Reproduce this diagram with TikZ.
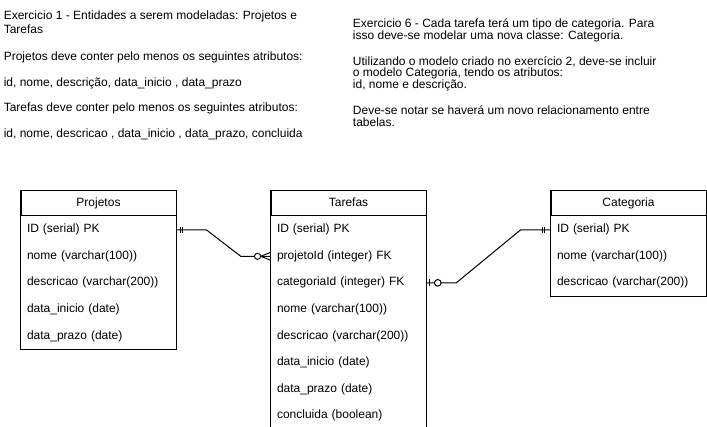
\documentclass[tikz,border=0pt]{standalone}
\usepackage{fontspec}
\setmainfont{Liberation Sans}
\usetikzlibrary{positioning,calc}

\begin{document}
\begin{tikzpicture}[x=0.75pt,y=-0.75pt,
	every node/.style={font=\fontsize{9pt}{10.8pt}\selectfont},
	txt/.style={anchor=base west,inner sep=0pt},
	head/.style={draw,line width=0.75pt,minimum width=116.25pt,minimum height=18.75pt,inner sep=0pt,text height=6.6pt,text depth=1.9pt},
	row/.style={minimum height=19.5pt,inner ysep=0pt,inner xsep=4.5pt,text width=107.25pt,align=left},
	rel/.style={line width=0.75pt}]
	\useasboundingbox (0,0) rectangle (707,427);

	%text
	\node[txt] (exa1) at (3.5,20)    {Exercicio 1 - Entidades a serem modeladas: Projetos e};
	\node[txt] (exa2) at (3.5,33.7)  {Tarefas};
	\node[txt] (exa3) at (3.5,60.3)  {Projetos deve conter pelo menos os seguintes atributos:};
	\node[txt] (exa4) at (3.5,86.3)  {id, nome, descrição, data\_inicio , data\_prazo};
	\node[txt] (exa5) at (3.5,112)   {Tarefas deve conter pelo menos os seguintes atributos:};
	\node[txt] (exa6) at (3.5,138)   {id, nome, descricao , data\_inicio , data\_prazo, concluida};

	\node[txt] (exb1) at (352.7,27.3)  {Exercicio 6 - Cada tarefa terá um tipo de categoria. Para};
	\node[txt] (exb2) at (352.7,39.3)  {isso deve-se modelar uma nova classe: Categoria.};
	\node[txt] (exb3) at (352.7,65.3)  {Utilizando o modelo criado no exercício 2, deve-se incluir};
	\node[txt] (exb4) at (352.7,76.8)  {o modelo Categoria, tendo os atributos:};
	\node[txt] (exb5) at (352.7,88.3)  {id, nome e descrição.};
	\node[txt] (exb6) at (352.7,115)   {Deve-se notar se haverá um novo relacionamento entre};
	\node[txt] (exb7) at (352.7,126.5) {tabelas.};

	%tables
	\node[head] (proj) at (98.5,203.5) {Projetos};
		\node[row,below=0pt of proj] (p1) {ID (serial) PK};
		\node[row,below=0pt of p1] (p2) {nome (varchar(100))};
		\node[row,below=0pt of p2] (p3) {descricao (varchar(200))};
		\node[row,below=0pt of p3] (p4) {data\_inicio (date)};
		\node[row,below=0pt of p4] (p5) {data\_prazo (date)};
	\draw[rel] (proj.north west) rectangle (p5.south east);

	\node[head] (tar) at (348.5,203.5) {Tarefas};
		\node[row,below=0pt of tar] (t1) {ID (serial) PK};
		\node[row,below=0pt of t1] (t2) {projetoId (integer) FK};
		\node[row,below=0pt of t2] (t3) {categoriaId (integer) FK};
		\node[row,below=0pt of t3] (t4) {nome (varchar(100))};
		\node[row,below=0pt of t4] (t5) {descricao (varchar(200))};
		\node[row,below=0pt of t5] (t6) {data\_inicio (date)};
		\node[row,below=0pt of t6] (t7) {data\_prazo (date)};
		\node[row,below=0pt of t7] (t8) {concluida (boolean)};
	\draw[rel] (tar.north west) rectangle (t8.south east);

	\node[head] (cat) at (628.5,203.5) {Categoria};
		\node[row,below=0pt of cat] (c1) {ID (serial) PK};
		\node[row,below=0pt of c1] (c2) {nome (varchar(100))};
		\node[row,below=0pt of c2] (c3) {descricao (varchar(200))};
	\draw[rel] (cat.north west) rectangle (c3.south east);

	%relations
	\draw[rel] (p1.east) -- ++(30,0) -- ($(t2.west)+(-30,0)$) -- (t2.west);		%projetos--tarefas
	\draw[rel] ($(p1.east)+(4.5,-3)$) -- ++(0,6) ($(p1.east)+(6.5,-3)$) -- ++(0,6);	%one
	\draw[rel] ($(t2.west)+(-10,0)$) -- ($(t2.west)+(0,-4)$)
		($(t2.west)+(-10,0)$) -- ($(t2.west)+(0,4)$);							%many
	\draw[rel,fill=white] ($(t2.west)+(-13.2,0)$) circle [radius=2.3pt];			%zero

	\draw[rel] (t3.east) -- ++(30,0) -- ($(c1.west)+(-30,0)$) -- (c1.west);		%tarefas--categoria
	\draw[rel] ($(t3.east)+(3,-3.5)$) -- ++(0,7);									%one
	\draw[rel,fill=white] ($(t3.east)+(11.5,0)$) circle [radius=2.5pt];			%zero
	\draw[rel] ($(c1.west)+(-6,-3)$) -- ++(0,6) ($(c1.west)+(-8,-3)$) -- ++(0,6);	%one
\end{tikzpicture}
\end{document}
